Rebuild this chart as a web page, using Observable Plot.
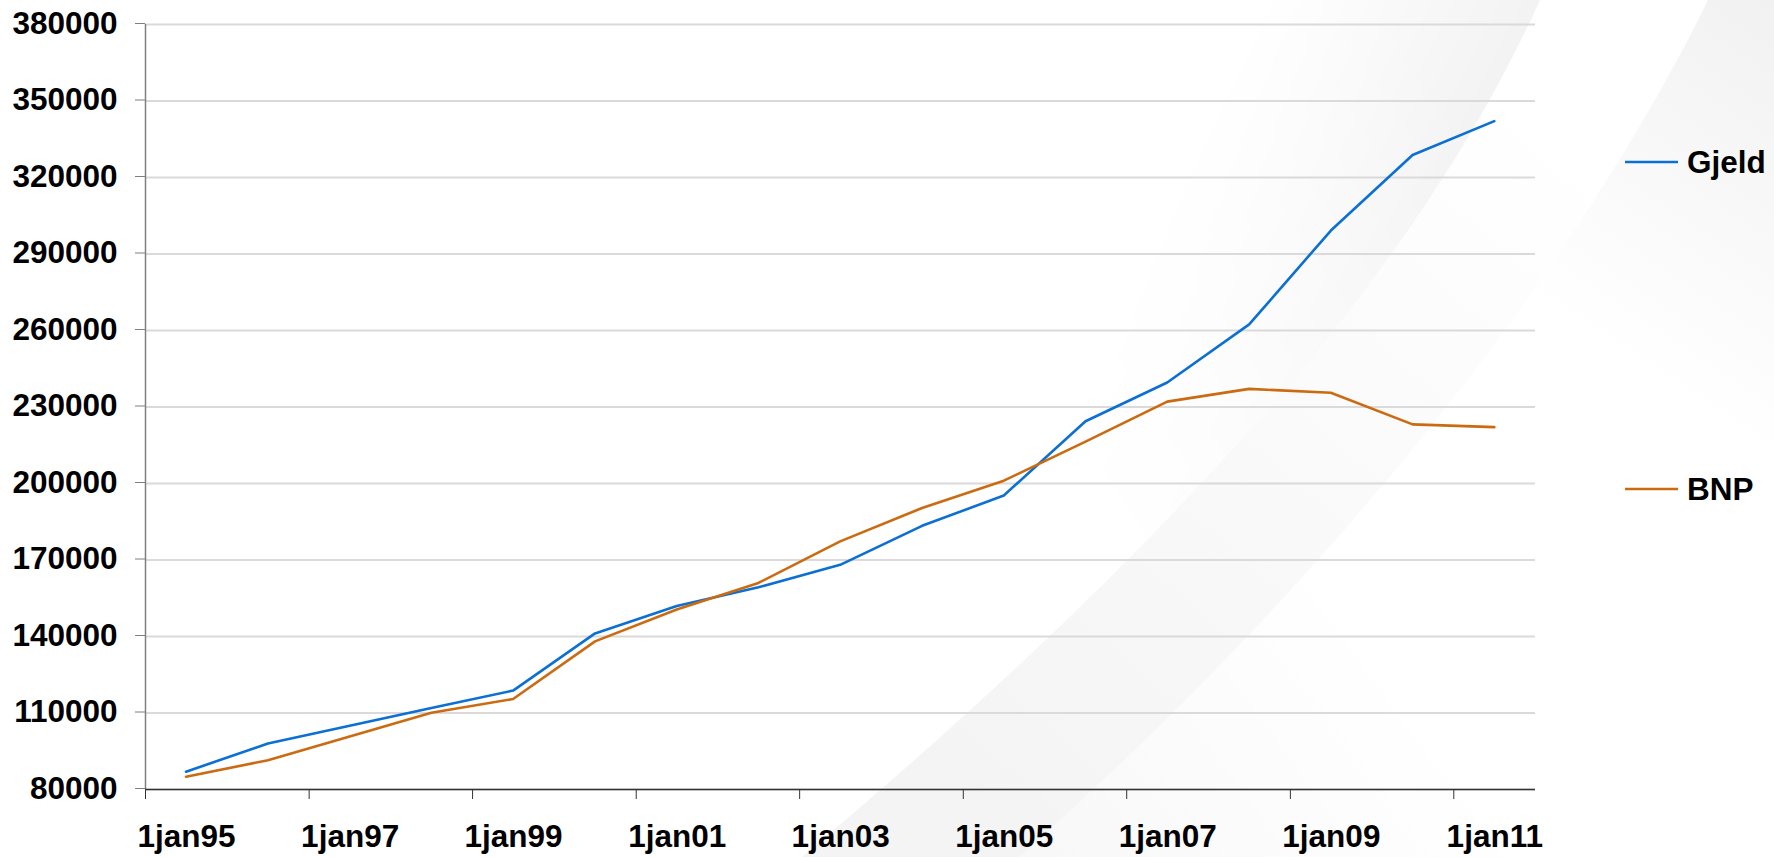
<!DOCTYPE html>
<html>
<head>
<meta charset="utf-8">
<script src="https://cdn.jsdelivr.net/npm/d3@7"></script>
<script src="https://cdn.jsdelivr.net/npm/@observablehq/plot@0.6"></script>
<style>
  body { margin: 0; background: #fff; }
  #wrap { position: relative; width: 1774px; height: 857px; overflow: hidden; }
  #bg, #chart, #legend { position: absolute; left: 0; top: 0; }
  #chart svg { display: block; }
</style>
</head>
<body>
<div id="wrap">
  <svg id="bg" width="1774" height="857">
    <defs>
      <linearGradient id="gL" gradientUnits="userSpaceOnUse" x1="1500" y1="150" x2="1030" y2="460">
        <stop offset="0" stop-color="#000" stop-opacity="0.06"/>
        <stop offset="1" stop-color="#000" stop-opacity="0"/>
      </linearGradient>
      <linearGradient id="gLmask" gradientUnits="userSpaceOnUse" x1="1230" y1="60" x2="1500" y2="200">
        <stop offset="0" stop-color="#000"/>
        <stop offset="1" stop-color="#fff"/>
      </linearGradient>
      <mask id="mL" maskUnits="userSpaceOnUse" x="0" y="0" width="1774" height="857">
        <rect x="0" y="0" width="1774" height="857" fill="url(#gLmask)"/>
      </mask>
      <linearGradient id="gM" gradientUnits="userSpaceOnUse" x1="1560" y1="120" x2="950" y2="820">
        <stop offset="0" stop-color="#000" stop-opacity="0"/>
        <stop offset="1" stop-color="#000" stop-opacity="0.045"/>
      </linearGradient>
      <linearGradient id="gR" gradientUnits="userSpaceOnUse" x1="1774" y1="0" x2="1560" y2="320">
        <stop offset="0" stop-color="#000" stop-opacity="0.055"/>
        <stop offset="1" stop-color="#000" stop-opacity="0"/>
      </linearGradient>
      <linearGradient id="gB" gradientUnits="userSpaceOnUse" x1="1000" y1="857" x2="1350" y2="600">
        <stop offset="0" stop-color="#000" stop-opacity="0.03"/>
        <stop offset="1" stop-color="#000" stop-opacity="0"/>
      </linearGradient>
    </defs>
    <path d="M 1540 0 C 1440 220, 1250 480, 802 857 L 0 857 L 0 0 Z" fill="url(#gL)" mask="url(#mL)"/>
    <path d="M 1540 0 C 1440 220, 1250 480, 802 857 L 1019 857 C 1420 500, 1620 180, 1708 0 Z" fill="url(#gM)"/>
    <path d="M 1708 0 L 1774 0 L 1774 857 L 1019 857 C 1420 500, 1620 180, 1708 0 Z" fill="url(#gR)"/>
    <path d="M 1708 0 L 1774 0 L 1774 857 L 1019 857 C 1420 500, 1620 180, 1708 0 Z" fill="url(#gB)"/>
  </svg>
  <div id="chart"></div>
  <svg id="legend" width="1774" height="857"></svg>
</div>
<script>
// ---- data ----
const years = [1995, 1996, 1997, 1998, 1999, 2000, 2001, 2002, 2003, 2004, 2005, 2006, 2007, 2008, 2009, 2010, 2011];
const gjeld = [87000, 98000, 105000, 112000, 118800, 141200, 152000, 159300, 168100, 183400, 195300, 224400, 239600, 262400, 299200, 328800, 342100];
const bnp   = [85000, 91500, 100800, 110100, 115500, 138100, 150600, 161000, 177300, 190400, 201100, 216400, 232100, 237100, 235600, 223200, 222100];
const seriesNames = ["Gjeld", "BNP"];
const seriesColors = ["#0b6fd4", "#cc6a10"];
const yTicks = [80000, 110000, 140000, 170000, 200000, 230000, 260000, 290000, 320000, 350000, 380000];
const xTickYears = [1995, 1997, 1999, 2001, 2003, 2005, 2007, 2009, 2011];
const xDomainYears = [1995, 2012];

// ---- build table ----
const midYear = y => new Date(Date.UTC(y, 6, 1));
const jan1 = y => new Date(Date.UTC(y, 0, 1));
const data = [];
years.forEach((y, i) => {
  data.push({date: midYear(y), value: gjeld[i], series: seriesNames[0]});
  data.push({date: midYear(y), value: bnp[i], series: seriesNames[1]});
});
const xTicks = xTickYears.map(jan1);
const fmtX = d => "1jan" + String(d.getUTCFullYear()).slice(2);

const FONT = '"Liberation Sans", Arial, sans-serif';

const chart = Plot.plot({
  width: 1774,
  height: 857,
  marginLeft: 145,
  marginRight: 239,
  marginTop: 24,
  marginBottom: 68,
  style: {background: "transparent", fontFamily: FONT, fontSize: "31.5px", fontWeight: "bold", color: "#000", overflow: "visible"},
  x: {type: "utc", domain: xDomainYears.map(jan1)},
  y: {domain: [yTicks[0], yTicks[yTicks.length - 1]]},
  color: {domain: seriesNames, range: seriesColors},
  marks: [
    Plot.gridY(yTicks, {stroke: "#dadada", strokeOpacity: 1, strokeWidth: 2}),
    Plot.axisY(yTicks, {tickSize: 10, tickPadding: 18, dy: -1, tickFormat: d => String(d), stroke: "#7f7f7f", fill: "#000", label: null}),
    Plot.axisX(xTicks, {tickSize: 10, tickFormat: () => "", stroke: "#333", label: null}),
    Plot.axisX(xTicks, {tickSize: 0, tickPadding: 35, dx: 41, tickFormat: fmtX, fill: "#000", label: null}),
    Plot.ruleX([jan1(xDomainYears[0])], {stroke: "#7f7f7f", strokeWidth: 1.5}),
    Plot.ruleY([yTicks[0]], {stroke: "#333", strokeWidth: 1.5}),
    Plot.lineY(data, {x: "date", y: "value", z: "series", stroke: "series", strokeWidth: 2.6})
  ]
});
document.getElementById("chart").appendChild(chart);

// ---- legend (right side) ----
const legendY = [162, 489];
const leg = d3.select("#legend");
seriesNames.forEach((name, i) => {
  leg.append("line")
    .attr("x1", 1625).attr("x2", 1678)
    .attr("y1", legendY[i]).attr("y2", legendY[i])
    .attr("stroke", seriesColors[i]).attr("stroke-width", 2.6);
  leg.append("text")
    .attr("x", 1687).attr("y", legendY[i] + 11)
    .attr("font-family", FONT).attr("font-size", 31.5).attr("font-weight", "bold")
    .attr("fill", "#000")
    .text(name);
});
</script>
</body>
</html>
